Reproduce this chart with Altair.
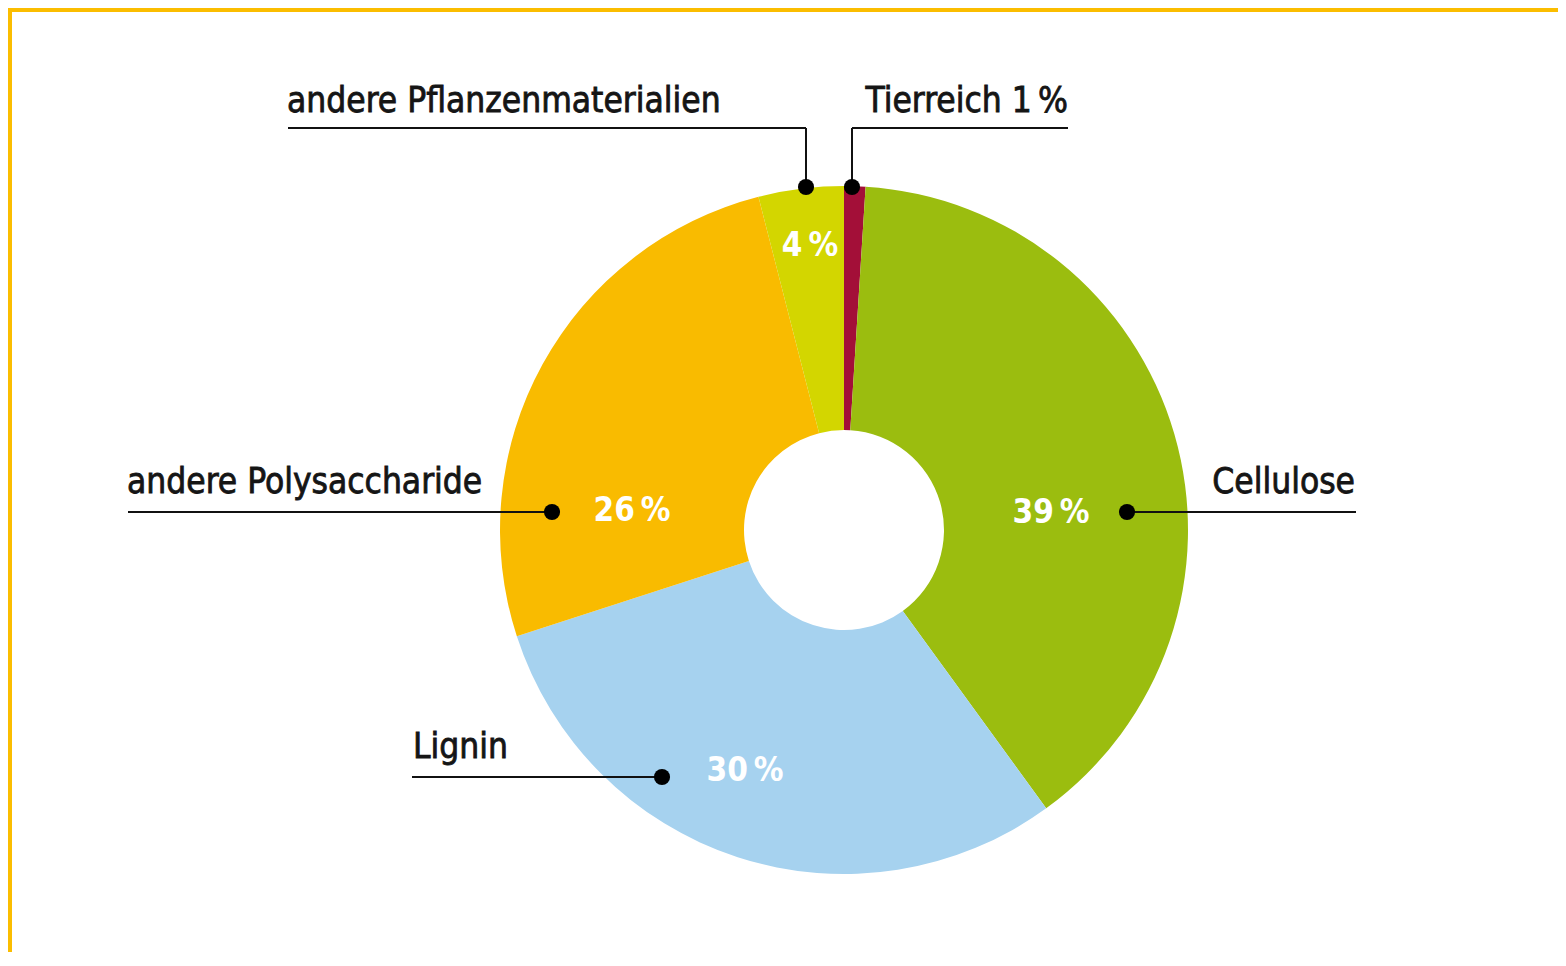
import altair as alt
import pandas as pd

# ---- data ----
categories = ["Tierreich", "Cellulose", "Lignin", "andere Polysaccharide", "andere Pflanzenmaterialien"]
shares = [1, 39, 30, 26, 4]
colors = ["#a30f38", "#9bbd0f", "#a6d2ef", "#f9bb00", "#d3d600"]
label_texts = ["Tierreich 1\u2009%", "Cellulose", "Lignin", "andere Polysaccharide", "andere Pflanzenmaterialien"]

# ---- layout (page pixel positions of annotations) ----
W, H = 1546, 940
PAD_L, PAD_T = 4, 4
X0, Y0 = 8 + PAD_L, 8 + PAD_T
CX, CY = 844, 530          # donut centre (page px)
R_OUT, R_IN = 344, 100

# dot position, optional elbow y, line end x, label x, label align, label baseline y
ann = {
    "Tierreich": dict(dx=852, dy=187, elbow=128, end=1068, lx=1068, align="right", ly=112),
    "Cellulose": dict(dx=1127, dy=512, elbow=None, end=1356, lx=1355, align="right", ly=493),
    "Lignin": dict(dx=662, dy=777, elbow=None, end=412, lx=413, align="left", ly=758),
    "andere Polysaccharide": dict(dx=552, dy=512, elbow=None, end=128, lx=127, align="left", ly=493),
    "andere Pflanzenmaterialien": dict(dx=806, dy=187, elbow=128, end=288, lx=287, align="left", ly=112),
}
pct_pos = {
    "Cellulose": (1051, 513),
    "Lignin": (745, 771),
    "andere Polysaccharide": (632, 511),
    "andere Pflanzenmaterialien": (810, 246),
}

FONT = "DejaVu Sans Condensed, DejaVu Sans, sans-serif"

df = pd.DataFrame({"cat": categories, "share": shares, "idx": list(range(len(categories)))})

xs = alt.Scale(domain=[X0, X0 + W], nice=False, zero=False)
ys = alt.Scale(domain=[Y0, Y0 + H], nice=False, zero=False, reverse=True)

arcs = alt.Chart(df).mark_arc(outerRadius=R_OUT, innerRadius=R_IN).encode(
    theta=alt.Theta("share:Q", stack=True),
    order=alt.Order("idx:Q"),
    color=alt.Color("cat:N", scale=alt.Scale(domain=categories, range=colors), legend=None),
    x=alt.value(CX - X0),
    y=alt.value(CY - Y0),
)

seg_rows = []
dot_rows = []
lab_rows = []
for cat, txt in zip(categories, label_texts):
    a = ann[cat]
    dot_rows.append({"x": a["dx"], "y": a["dy"]})
    if a["elbow"] is None:
        seg_rows.append({"x": a["dx"], "y": a["dy"], "x2": a["end"], "y2": a["dy"]})
    else:
        seg_rows.append({"x": a["dx"], "y": a["dy"], "x2": a["dx"], "y2": a["elbow"]})
        seg_rows.append({"x": a["dx"], "y": a["elbow"], "x2": a["end"], "y2": a["elbow"]})
    lab_rows.append({"x": a["lx"], "y": a["ly"], "text": txt, "align": a["align"]})

segs = alt.Chart(pd.DataFrame(seg_rows)).mark_rule(color="#111111", strokeWidth=2).encode(
    x=alt.X("x:Q", scale=xs, axis=None),
    y=alt.Y("y:Q", scale=ys, axis=None),
    x2="x2:Q",
    y2="y2:Q",
)

dots = alt.Chart(pd.DataFrame(dot_rows)).mark_point(filled=True, color="#000000", size=260, opacity=1).encode(
    x=alt.X("x:Q", scale=xs, axis=None),
    y=alt.Y("y:Q", scale=ys, axis=None),
)

lab_df = pd.DataFrame(lab_rows)
labels_left = alt.Chart(lab_df[lab_df["align"] == "left"]).mark_text(
    font=FONT, fontSize=35, align="left", baseline="alphabetic", color="#151515",
    stroke="#151515", strokeWidth=0.8
).encode(
    x=alt.X("x:Q", scale=xs, axis=None),
    y=alt.Y("y:Q", scale=ys, axis=None),
    text="text:N",
)
labels_right = alt.Chart(lab_df[lab_df["align"] == "right"]).mark_text(
    font=FONT, fontSize=35, align="right", baseline="alphabetic", color="#151515",
    stroke="#151515", strokeWidth=0.8
).encode(
    x=alt.X("x:Q", scale=xs, axis=None),
    y=alt.Y("y:Q", scale=ys, axis=None),
    text="text:N",
)

pct_rows = []
for cat, v in zip(categories, shares):
    if cat in pct_pos:
        px, py = pct_pos[cat]
        pct_rows.append({"x": px, "y": py, "text": f"{v}\u2009%"})
pcts = alt.Chart(pd.DataFrame(pct_rows)).mark_text(
    font=FONT, fontSize=33, align="center", baseline="middle", color="white", fontWeight="bold"
).encode(
    x=alt.X("x:Q", scale=xs, axis=None),
    y=alt.Y("y:Q", scale=ys, axis=None),
    text="text:N",
)

one = pd.DataFrame({"k": [0]})
frame_top = alt.Chart(one).mark_rule(color="#fbbd00", strokeWidth=4).encode(
    x=alt.value(-PAD_L), x2=alt.value(W), y=alt.value(-2)
)
frame_left = alt.Chart(one).mark_rule(color="#fbbd00", strokeWidth=4).encode(
    x=alt.value(-2), y=alt.value(-PAD_T), y2=alt.value(H)
)

chart = alt.layer(frame_top, frame_left, arcs, segs, dots, labels_left, labels_right, pcts).properties(
    width=W, height=H,
    padding={"left": PAD_L, "top": PAD_T, "right": 0, "bottom": 0},
    autosize=alt.AutoSizeParams(type="none"),
).configure_view(stroke=None)

chart.save("out.html", embed_options={"renderer": "svg", "actions": False})
